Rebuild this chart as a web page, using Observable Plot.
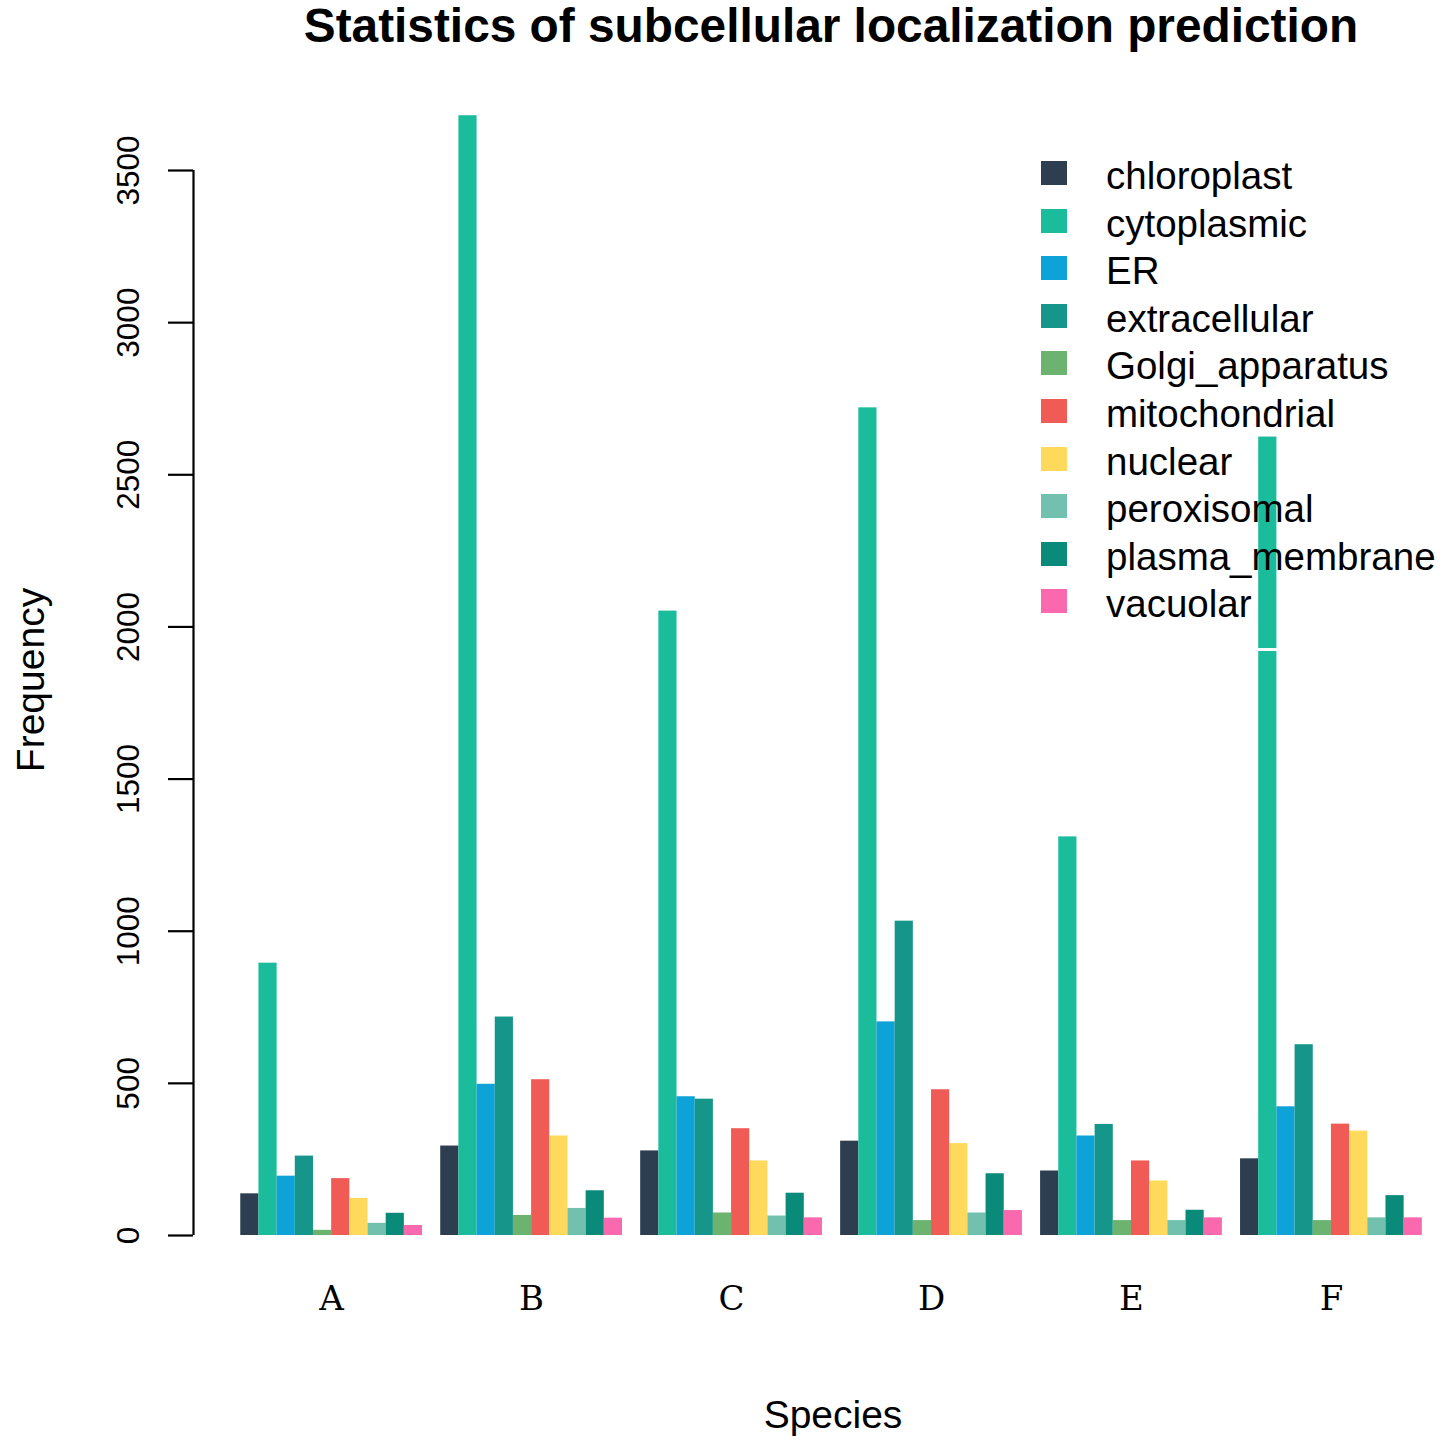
<!DOCTYPE html>
<html>
<head>
<meta charset="utf-8">
<script src="https://cdn.jsdelivr.net/npm/d3@7"></script>
<script src="https://cdn.jsdelivr.net/npm/@observablehq/plot@0.6"></script>
<style>
  html, body { margin: 0; padding: 0; background: #fff; }
  #wrap { position: relative; width: 1450px; height: 1450px; overflow: hidden; font-family: "Liberation Sans", Arial, sans-serif; }
  #wrap svg { position: absolute; left: 0; top: 0; }
  .ov { position: absolute; white-space: nowrap; color: #000; line-height: 1.15; }
</style>
</head>
<body>
<div id="wrap"></div>
<script>
// ---- data ----
const species = ["A", "B", "C", "D", "E", "F"];
const locations = ["chloroplast", "cytoplasmic", "ER", "extracellular", "Golgi_apparatus",
  "mitochondrial", "nuclear", "peroxisomal", "plasma_membrane", "vacuolar"];
const colors = ["#2C3E50", "#1ABC9C", "#0DA3D8", "#16958A", "#6BB36E",
  "#F05B56", "#FFD95C", "#72C1AF", "#0A8A78", "#FA68AE"];

const chloroplast     = [137, 294, 278, 310, 212, 252];
const cytoplasmic     = [895, 3680, 2052, 2720, 1310, 2624];
const ER              = [195, 497, 456, 702, 327, 423];
const extracellular   = [261, 718, 448, 1033, 365, 627];
const Golgi_apparatus = [17, 66, 74, 49, 49, 49];
const mitochondrial   = [187, 512, 351, 479, 245, 366];
const nuclear         = [122, 327, 245, 302, 179, 343];
const peroxisomal     = [40, 89, 64, 74, 49, 58];
const plasma_membrane = [73, 147, 139, 203, 83, 131];
const vacuolar        = [33, 57, 58, 82, 58, 58];

const yTicks = [0, 500, 1000, 1500, 2000, 2500, 3000, 3500];

// ---- build table (R barplot beside=TRUE layout: 10 bars + 1 space per group) ----
const series = [chloroplast, cytoplasmic, ER, extracellular, Golgi_apparatus,
  mitochondrial, nuclear, peroxisomal, plasma_membrane, vacuolar];
const groupSize = locations.length + 1;
const rows = [];
species.forEach((s, g) => {
  locations.forEach((loc, i) => {
    rows.push({species: s, location: loc, value: series[i][g], left: g * groupSize + i + 1});
  });
});
const nBars = species.length * groupSize;          // 66
const ext = (nBars - 1) * 0.04;                     // R's 4% axis extension
const xlim = [1 - ext, 67.55];

const chart = Plot.plot({
  width: 1450,
  height: 1450,
  marginLeft: 193,
  marginRight: 0,
  marginTop: 170,
  marginBottom: 215,
  style: {fontFamily: "'Liberation Sans', Arial, sans-serif", background: "transparent"},
  x: {domain: xlim, axis: null},
  y: {domain: [0, 3500], axis: null},
  color: {domain: locations, range: colors},
  marks: [
    Plot.rect(rows, {
      x1: "left",
      x2: d => d.left + 1,
      y1: 0,
      y2: "value",
      fill: "location"
    }),
    Plot.ruleX([xlim[0]], {y1: 0, y2: 3500, stroke: "#000", strokeWidth: 2.2}),
    Plot.axisY({
      anchor: "left",
      ticks: yTicks,
      tickFormat: d => String(d),
      tickSize: 25,
      tickPadding: 30,
      tickRotate: -90,
      fontSize: 31.5,
      strokeWidth: 2.2,
      label: null
    }),
    Plot.axisX({
      anchor: "bottom",
      ticks: species.map((s, g) => g * groupSize + (locations.length + 2) / 2),
      tickFormat: v => species[Math.round((v - (locations.length + 2) / 2) / groupSize)],
      tickSize: 0,
      tickPadding: 50,
      fontSize: 34,
      fontFamily: "'DejaVu Serif', serif",
      label: null
    })
  ]
});

const wrap = document.getElementById("wrap");
wrap.appendChild(chart);

function addDiv(text, css) {
  const d = document.createElement("div");
  d.className = "ov";
  d.textContent = text;
  Object.assign(d.style, css);
  wrap.appendChild(d);
  return d;
}

// Title
addDiv("Statistics of subcellular localization prediction", {
  left: "831px", top: "-1px", transform: "translateX(-50%)",
  fontSize: "47.8px", fontWeight: "bold", lineHeight: "1.15"
});
// Axis titles
addDiv("Frequency", {
  left: "31px", top: "680px", transform: "translate(-50%,-50%) rotate(-90deg)",
  fontSize: "39px"
});
addDiv("Species", {
  left: "833px", top: "1415px", transform: "translate(-50%,-50%)",
  fontSize: "39px"
});

// legend box bottom border (white, as in the original)
const box = document.createElement("div");
Object.assign(box.style, {position: "absolute", left: "1022px", top: "648px", width: "428px", height: "3px", background: "#fff"});
wrap.appendChild(box);

// Legend
locations.forEach((loc, i) => {
  const cy = 173 + i * 47.6;
  const sw = document.createElement("div");
  Object.assign(sw.style, {position: "absolute", left: "1041px", top: (cy - 12) + "px", width: "26px", height: "24px", background: colors[i]});
  wrap.appendChild(sw);
  addDiv(loc, {left: "1106px", top: (cy + 3) + "px", transform: "translateY(-50%)", fontSize: "38.5px"});
});
</script>
</body>
</html>
